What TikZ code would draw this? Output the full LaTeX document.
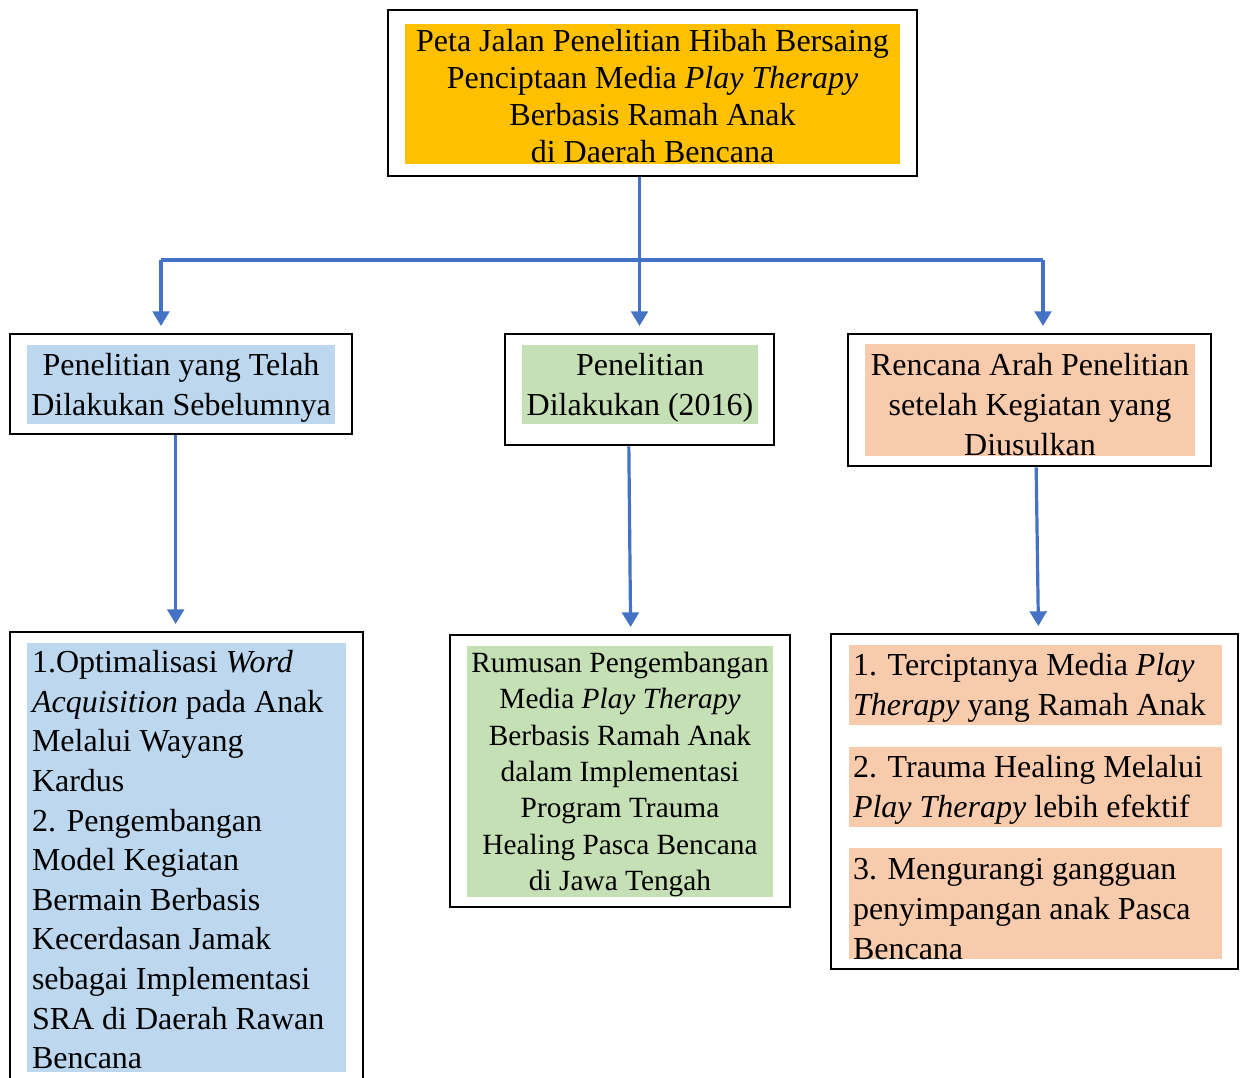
\documentclass[tikz,border=0pt]{standalone}
\usepackage{fontspec}
\setmainfont{Liberation Serif}
\usetikzlibrary{arrows.meta}
\definecolor{oranye}{HTML}{FFC000}
\definecolor{biru}{HTML}{BDD7EE}
\definecolor{hijau}{HTML}{C5E0B4}
\definecolor{peach}{HTML}{F8CBAD}
\definecolor{garis}{HTML}{4472C4}

\begin{document}
\begin{tikzpicture}[x=0.75pt, y=-0.75pt,
    bingkai/.style={draw=black, line width=2pt, inner sep=0pt},
    isi/.style={inner sep=0pt, align=flush center, font=\fontsize{24}{30}\selectfont},
    kiriisi/.style={isi, align=flush left},
    garisbiru/.style={color=garis, line width=2.4pt},
    panah/.style={garisbiru, -{Triangle[length=11pt, width=12.5pt]}, shorten >=5pt}]
  \useasboundingbox (0,0) rectangle (1243,1078);

  % judul
  \node[bingkai, minimum width=396.75pt, minimum height=124.5pt] (judul) at (652.5,93) {};
  \node[isi, fill=oranye, text width=371.25pt, minimum height=105pt, text height=19.6pt,
        font=\fontsize{24}{27.6}\selectfont] (judulisi) at (652.5,94)
    {Peta Jalan Penelitian Hibah Bersaing\\ Penciptaan Media \textit{Play Therapy}\\
     Berbasis Ramah Anak\\ di Daerah Bencana};

  % baris tengah
  \node[bingkai, minimum width=256.5pt, minimum height=75pt] (boxA) at (181,384) {};
  \node[isi, fill=biru, text width=231pt, minimum height=59.25pt, text height=21pt]
    (boxAisi) at (181,384.5) {Penelitian yang Telah\\ Dilakukan Sebelumnya};
  \node[bingkai, minimum width=201.75pt, minimum height=83.25pt] (boxB) at (639.5,389.5) {};
  \node[isi, fill=hijau, text width=177pt, minimum height=59.25pt, text height=21pt]
    (boxBisi) at (640,384.5) {Penelitian\\ Dilakukan (2016)};
  \node[bingkai, minimum width=272.25pt, minimum height=99pt] (boxC) at (1029.5,400) {};
  \node[isi, fill=peach, text width=247.5pt, minimum height=82.5pt, text height=24pt]
    (boxCisi) at (1030,400) {Rencana Arah Penelitian\\ setelah Kegiatan yang\\ Diusulkan};

  % baris bawah
  \node[bingkai, minimum width=264.75pt, minimum height=347.25pt] (hasilA) at (186.5,863.5) {};
  \node[kiriisi, fill=biru, inner xsep=3.75pt, text width=231.75pt, text height=20pt,
        minimum height=321.75pt, font=\fontsize{24}{29.7}\selectfont] (hasilAisi) at (186.5,857.5)
    {1.Optimalisasi \textit{Word}\\ \textit{Acquisition} pada Anak\\ Melalui Wayang\\ Kardus\\
     2. Pengembangan\\ Model Kegiatan\\ Bermain Berbasis\\ Kecerdasan Jamak\\
     sebagai Implementasi\\ SRA di Daerah Rawan\\ Bencana};
  \node[bingkai, minimum width=255pt, minimum height=204pt] (hasilB) at (620,771) {};
  \node[isi, fill=hijau, text width=229.5pt, minimum height=186.75pt, text height=19.7pt,
        font=\fontsize{22}{27.3}\selectfont] (hasilBisi) at (620,771.5)
    {Rumusan Pengembangan\\ Media \textit{Play Therapy}\\ Berbasis Ramah Anak\\
     dalam Implementasi\\ Program Trauma\\ Healing Pasca Bencana\\ di Jawa Tengah};
  \node[bingkai, minimum width=305.25pt, minimum height=251.25pt] (hasilC) at (1034.5,801.5) {};
  \node[kiriisi, fill=peach, inner xsep=3pt, text width=273.75pt, text height=21pt,
        minimum height=60pt] (c1) at (1035.5,685)
    {1. Terciptanya Media \textit{Play}\\ \textit{Therapy} yang Ramah Anak};
  \node[kiriisi, fill=peach, inner xsep=3pt, text width=273.75pt, text height=21pt,
        minimum height=60pt] (c2) at (1035.5,787)
    {2. Trauma Healing Melalui\\ \textit{Play Therapy} lebih efektif};
  \node[kiriisi, fill=peach, inner xsep=3pt, text width=273.75pt, text height=23.5pt,
        minimum height=83.25pt] (c3) at (1035.5,903.5)
    {3. Mengurangi gangguan\\ penyimpangan anak Pasca\\ Bencana};

  % garis penghubung
  \coordinate (kiri) at (161,260);
  \coordinate (kanan) at (1043,260);
  \draw[garisbiru] (kiri) -- (kanan);
  \path[panah]
    (judul.south -| boxB.north) edge (boxB.north)
    (kiri) edge (kiri |- boxA.north)
    (kanan) edge (kanan |- boxC.north)
    ([xshift=-4pt]boxA.south) edge ([xshift=-4pt]boxA.south |- hasilA.north)
    ([xshift=-8pt]boxB.south) edge ([xshift=8pt]hasilB.north)
    ([xshift=5pt]boxC.south) edge ([xshift=3pt]hasilC.north);
\end{tikzpicture}
\end{document}
